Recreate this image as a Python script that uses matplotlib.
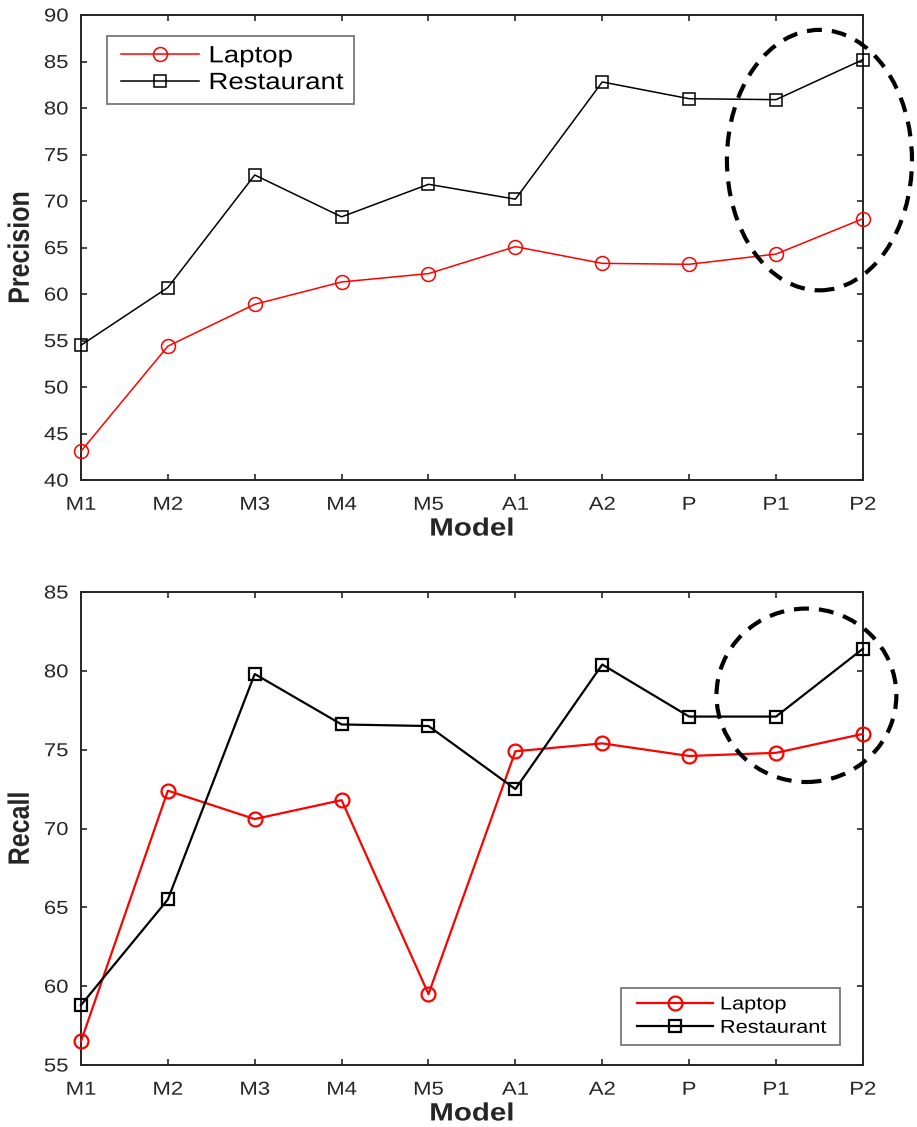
import matplotlib
matplotlib.use("Agg")
import matplotlib.pyplot as plt
from matplotlib.patches import Ellipse
from matplotlib.patheffects import AbstractPathEffect
from matplotlib.transforms import Affine2D
from matplotlib.legend_handler import HandlerLine2D

plt.rcParams['font.family'] = ['Liberation Sans', 'DejaVu Sans']

models = ["M1", "M2", "M3", "M4", "M5", "A1", "A2", "P", "P1", "P2"]
precision_laptop = [43.1, 54.4, 58.9, 61.3, 62.2, 65.1, 63.3, 63.2, 64.3, 68.1]
precision_restaurant = [54.5, 60.7, 72.8, 68.3, 71.8, 70.2, 82.8, 81.0, 80.9, 85.2]
recall_laptop = [56.5, 72.4, 70.6, 71.8, 59.5, 74.9, 75.4, 74.6, 74.8, 76.0]
recall_restaurant = [58.8, 65.5, 79.8, 76.6, 76.5, 72.5, 80.4, 77.1, 77.1, 81.4]
series_labels = ["Laptop", "Restaurant"]

STRETCH = 1.18


class StretchX(AbstractPathEffect):
    """Widen glyphs horizontally (the reference text is drawn wide)."""
    def __init__(self, sx, anchor='center'):
        super().__init__()
        self.sx = sx
        self.anchor = anchor

    def draw_path(self, renderer, gc, tpath, affine, rgbFace=None):
        ext = tpath.get_extents(affine)
        if self.anchor == 'left':
            cx = ext.x0
        elif self.anchor == 'right':
            cx = ext.x1
        else:
            cx = 0.5 * (ext.x0 + ext.x1)
        new = affine + Affine2D().translate(-cx, 0).scale(self.sx, 1).translate(cx, 0)
        renderer.draw_path(gc, tpath, new, rgbFace)


axis_color = '#262626'
fig = plt.figure(figsize=(9.17, 11.27), dpi=100)
ax1 = fig.add_axes([0.0883, 0.574, 0.8527, 0.4127])
ax2 = fig.add_axes([0.0883, 0.055, 0.8527, 0.4197])

x = list(range(len(models)))


def style(ax, ylim, yticks, ylabel):
    ax.set_xlim(0, len(models) - 1)
    ax.set_ylim(*ylim)
    ax.set_xticks(x)
    ax.set_xticklabels(models)
    ax.set_yticks(yticks)
    ax.tick_params(direction='in', top=True, right=True, length=4.5, width=1.2,
                   colors=axis_color, labelsize=13.5)
    ax.tick_params(axis='y', labelright=False, pad=9)
    ax.tick_params(axis='x', labeltop=False, pad=12)
    for s in ax.spines.values():
        s.set_color(axis_color)
        s.set_linewidth(1.4)
    for t in ax.get_xticklabels():
        t.set_path_effects([StretchX(STRETCH, 'center')])
    for t in ax.get_yticklabels():
        t.set_path_effects([StretchX(STRETCH, 'right')])
    xl = ax.set_xlabel("Model", fontsize=18, fontweight='bold', color=axis_color, labelpad=2)
    yl = ax.set_ylabel(ylabel, fontsize=18, fontweight='bold', color=axis_color, labelpad=11)
    xl.set_path_effects([StretchX(STRETCH, 'center')])
    yl.set_path_effects([StretchX(STRETCH, 'center')])


def legend(ax, fontsize, pad_spaces, xpad, **kw):
    handles, _ = ax.get_legend_handles_labels()
    labels = [s + " " * pad_spaces for s in series_labels]
    hmap = {h: HandlerLine2D(xpad=xpad) for h in handles}
    leg = ax.legend(handles, labels, fontsize=fontsize, fancybox=False,
                    edgecolor='#555555', borderaxespad=0, handler_map=hmap, **kw)
    leg.get_frame().set_linewidth(1.3)
    for t in leg.get_texts():
        t.set_path_effects([StretchX(1.17, 'left')])
    return leg


# Top: precision
ax1.plot(x, precision_laptop, color='red', lw=1.1, marker='o', ms=10,
         mfc='none', mec='red', mew=1.1, label=series_labels[0], clip_on=False, zorder=3)
ax1.plot(x, precision_restaurant, color='black', lw=1.1, marker='s', ms=9,
         mfc='none', mec='black', mew=1.1, label=series_labels[1], clip_on=False, zorder=3)
style(ax1, (40, 90), range(40, 91, 5), "Precision")
ax1.add_patch(Ellipse((8.5, 74.4), 2.13, 28.0, fill=False, ls=(0, (3.6, 2.4)),
                      lw=3, ec='black', clip_on=False, zorder=4))
legend(ax1, 17, 3, 0.22, loc='upper left', bbox_to_anchor=(0.033, 0.955),
       handlelength=3.52, borderpad=0.4, labelspacing=0.2, handletextpad=0.4)

# Bottom: recall
ax2.plot(x, recall_laptop, color='red', lw=1.6, marker='o', ms=10,
         mfc='none', mec='red', mew=1.6, label=series_labels[0], clip_on=False, zorder=3)
ax2.plot(x, recall_restaurant, color='black', lw=1.6, marker='s', ms=9,
         mfc='none', mec='black', mew=1.6, label=series_labels[1], clip_on=False, zorder=3)
style(ax2, (55, 85), range(55, 86, 5), "Recall")
ax2.add_patch(Ellipse((8.35, 78.45), 2.07, 11.0, fill=False, ls=(0, (3.6, 2.4)),
                      lw=3, ec='black', clip_on=False, zorder=4))
legend(ax2, 13.4, 4, 0.4, loc='lower right', bbox_to_anchor=(0.9706, 0.042),
       handlelength=4.5, borderpad=0.45, labelspacing=0.34, handletextpad=0.38)

fig.savefig("out.png", dpi=100, facecolor='white')
